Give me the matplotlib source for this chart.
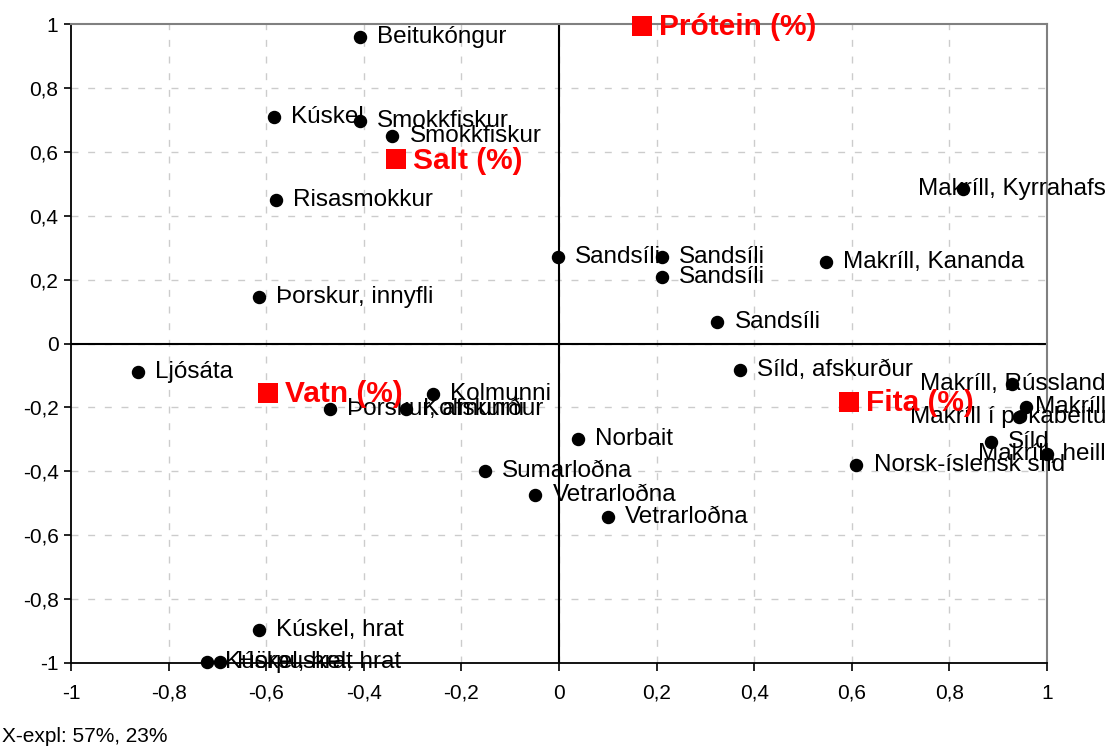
import matplotlib
matplotlib.use("Agg")
import matplotlib.pyplot as plt
import matplotlib.transforms as mtransforms
import numpy as np

plt.rcParams["font.family"] = ["Liberation Sans", "DejaVu Sans"]

# ---- samples (PCA scores) ----
sample_labels = [
    "Beitukóngur", "Kúskel", "Smokkfiskur", "Smokkfiskur", "Risasmokkur",
    "Sandsíli", "Sandsíli", "Sandsíli", "Sandsíli",
    "Makríll, Kyrrahafs", "Makríll, Kananda", "Þorskur, innyfli", "Ljósáta",
    "Þorskur, afskurður", "Kolmunni", "Kolmunni", "Síld, afskurður",
    "Makríll, Rússland", "Makríll", "Makríll í pokabeitu", "Síld",
    "Makríll, heill", "Norsk-íslensk síld", "Norbait", "Sumarloðna",
    "Vetrarloðna", "Vetrarloðna", "Kúskel, hrat", "Kúskel, hrat",
    "Hörpuskel, hrat",
]
sample_x = [
    -0.408, -0.584, -0.408, -0.342, -0.580,
    -0.002, 0.211, 0.211, 0.324,
    0.828, 0.547, -0.615, -0.863,
    -0.469, -0.258, -0.314, 0.371,
    0.928, 0.957, 0.943, 0.885,
    1.000, 0.609, 0.039, -0.152,
    -0.049, 0.100, -0.615, -0.721,
    -0.695,
]
sample_y = [
    0.959, 0.709, 0.696, 0.649, 0.449,
    0.271, 0.271, 0.208, 0.067,
    0.484, 0.255, 0.146, -0.089,
    -0.205, -0.158, -0.205, -0.083,
    -0.127, -0.199, -0.230, -0.308,
    -0.346, -0.380, -0.299, -0.399,
    -0.474, -0.543, -0.897, -0.997,
    -0.997,
]

# ---- variables (loadings) ----
var_labels = ["Prótein (%)", "Salt (%)", "Vatn (%)", "Fita (%)"]
var_x = [0.170, -0.334, -0.596, 0.594]
var_y = [0.994, 0.576, -0.155, -0.183]

x_ticks = [-1, -0.8, -0.6, -0.4, -0.2, 0, 0.2, 0.4, 0.6, 0.8, 1]
y_ticks = [-1, -0.8, -0.6, -0.4, -0.2, 0, 0.2, 0.4, 0.6, 0.8, 1]
footer = "X-expl: 57%, 23%"

# labels that would run off the chart get pushed back inside (like Excel does)
pushed_left = {"Makríll, Kyrrahafs", "Makríll, Rússland", "Makríll",
               "Makríll í pokabeitu", "Makríll, heill"}


def fmt(v):
    if abs(v) < 1e-9:
        return "0"
    return f"{v:g}".replace(".", ",")


fig = plt.figure(figsize=(11.09, 7.52), dpi=100)
ax = fig.add_axes([71 / 1109, 1 - 663 / 752, (1047 - 71) / 1109, (663 - 24) / 752])

ax.set_xlim(-1, 1)
ax.set_ylim(-1, 1)

# grid
for v in x_ticks[1:-1]:
    ax.axvline(v, color="#cccccc", lw=1.0, ls=(0, (5, 7)), zorder=0)
for v in y_ticks[1:-1]:
    ax.axhline(v, color="#cccccc", lw=1.0, ls=(0, (5, 7)), zorder=0)
# zero axes
ax.axvline(0, color="black", lw=1.5, zorder=1)
ax.axhline(0, color="black", lw=1.5, zorder=1)

# spines
for side in ("top", "right"):
    ax.spines[side].set_color("#808080")
    ax.spines[side].set_linewidth(1.5)
for side in ("left", "bottom"):
    ax.spines[side].set_color("black")
    ax.spines[side].set_linewidth(1.3)

ax.set_xticks(x_ticks)
ax.set_yticks(y_ticks)
ax.set_xticklabels([fmt(v) for v in x_ticks], fontsize=15)
ax.set_yticklabels([fmt(v) for v in y_ticks], fontsize=15)
ax.tick_params(axis="x", direction="out", length=6, width=1.2, pad=9)
ax.tick_params(axis="y", direction="out", length=5, width=1.2, pad=4)

# points
ax.scatter(sample_x, sample_y, s=75, color="black", zorder=3, clip_on=False)
ax.scatter(var_x, var_y, s=200, marker="s", color="#ff0000", zorder=3,
           clip_on=False, linewidths=0)

edge = mtransforms.blended_transform_factory(fig.transFigure, ax.transData)
for lab, x, y in zip(sample_labels, sample_x, sample_y):
    if lab in pushed_left:
        ax.text(1106 / 1109, y, lab, transform=edge, ha="right", va="center",
                fontsize=17.5, zorder=4, clip_on=False)
    else:
        ax.annotate(lab, (x, y), xytext=(12.5, 0), textcoords="offset points",
                    ha="left", va="center", fontsize=17.5, zorder=4,
                    annotation_clip=False)

for lab, x, y in zip(var_labels, var_x, var_y):
    ax.annotate(lab, (x, y), xytext=(12, -1), textcoords="offset points",
                ha="left", va="center", fontsize=21.5, fontweight="bold",
                color="#ff0000", zorder=4, annotation_clip=False)

fig.text(2 / 1109, 1 - 737 / 752, footer, ha="left", va="center", fontsize=15)

fig.savefig("out.png", dpi=100)
